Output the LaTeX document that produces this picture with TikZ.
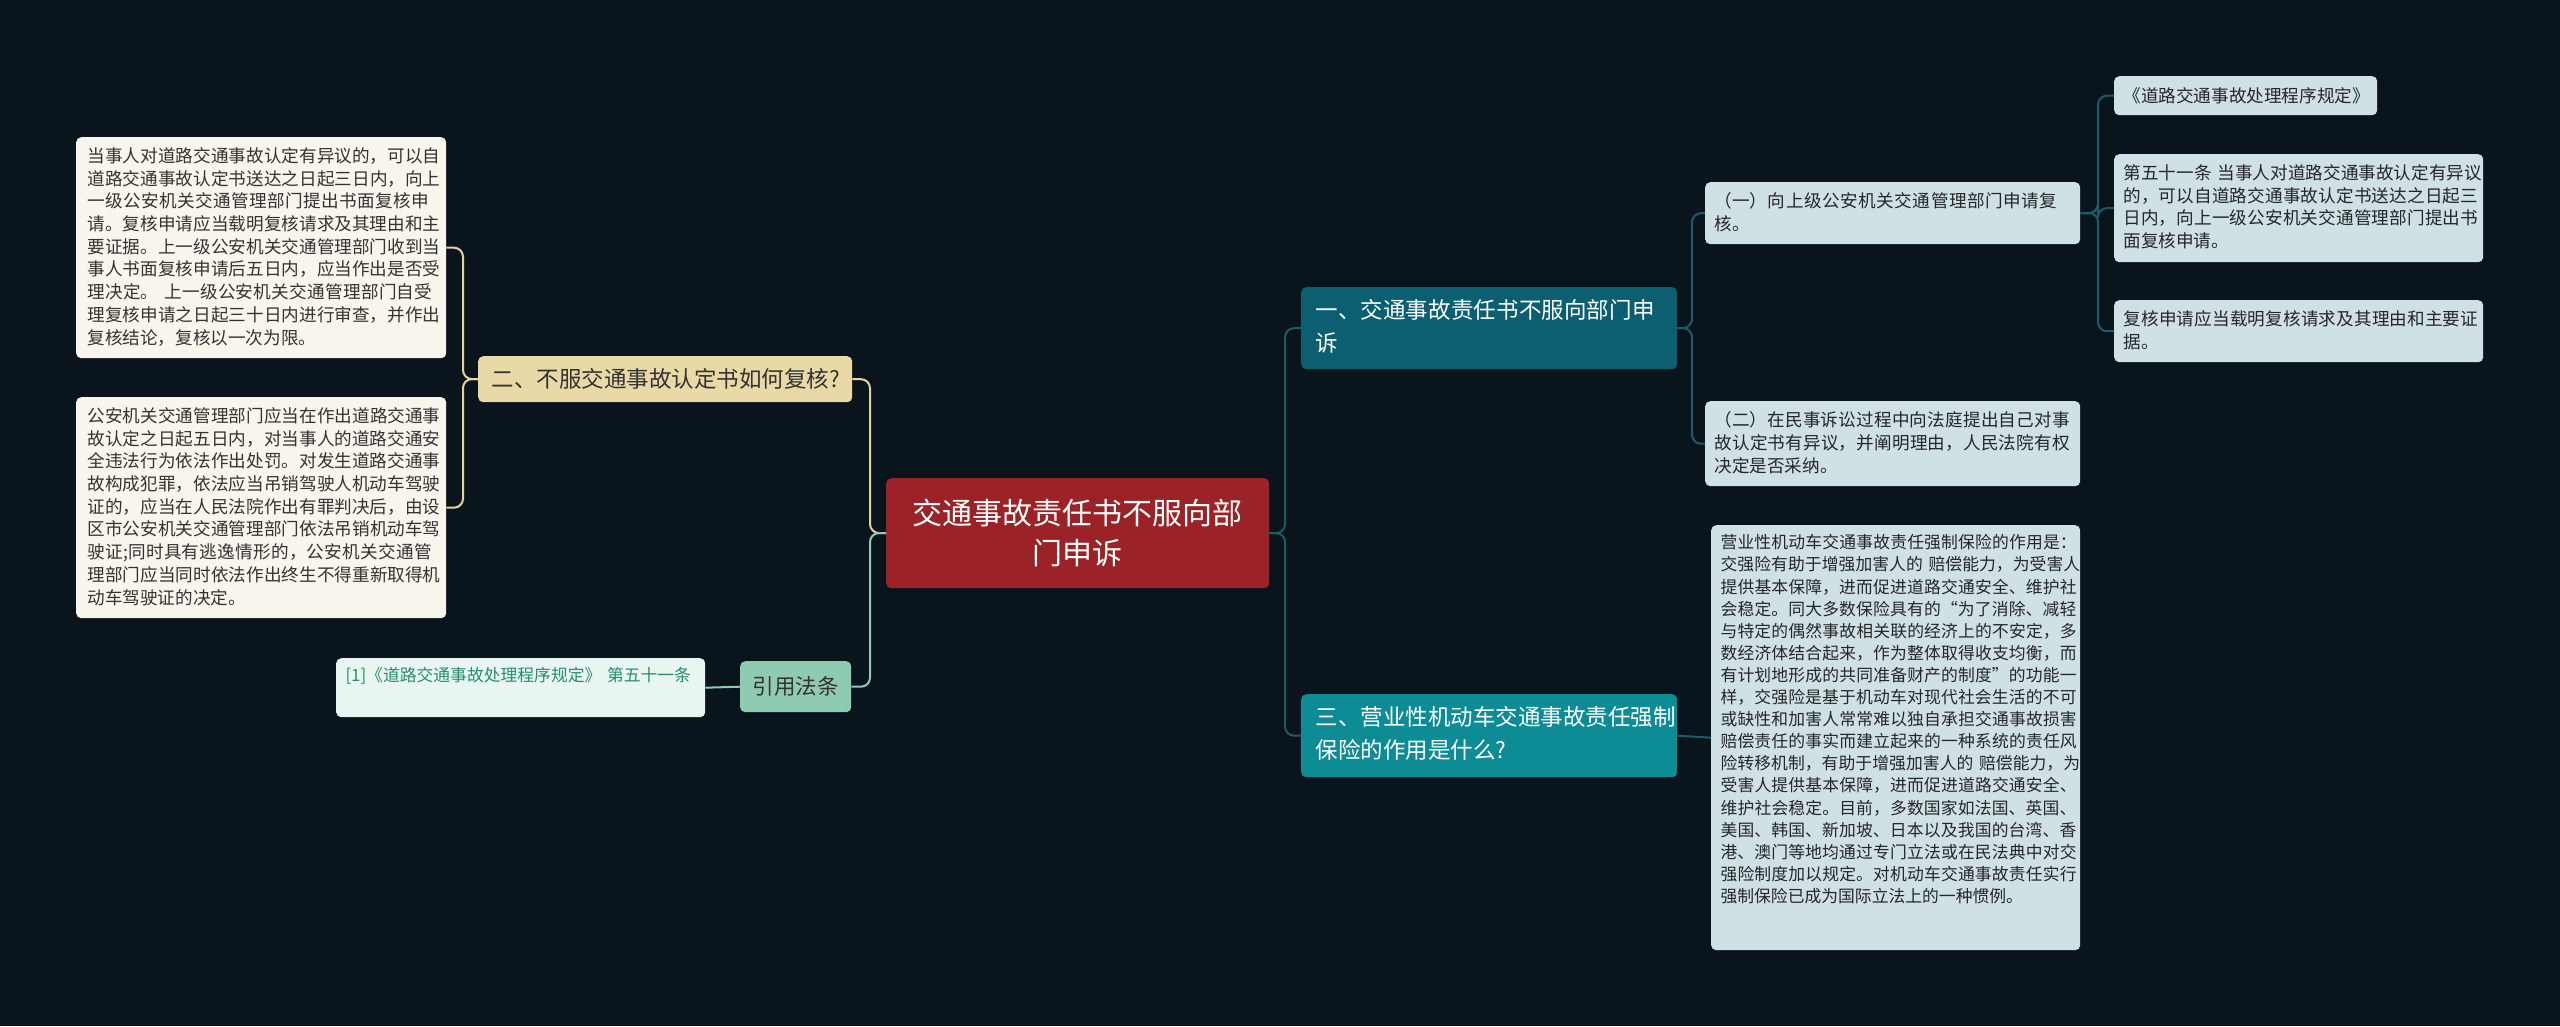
\documentclass[tikz,border=0pt]{standalone}
\usepackage{fontspec}
\setmainfont{Noto Sans CJK SC}
\XeTeXlinebreaklocale "zh"
\XeTeXlinebreakskip=0pt plus 1pt
\begin{document}
\begin{tikzpicture}[x=1pt,y=-1pt,
  box/.style={rounded corners=5pt,anchor=north west,inner sep=0pt},
  sm/.style={font=\fontsize{17.6}{22.7}\selectfont,align=left},
  bs/.style={font=\fontsize{16.8}{22.1}\selectfont,align=left},
  conR/.style={draw=cR,line width=2pt,rounded corners=9pt},
  conL/.style={draw=cL,line width=2pt,rounded corners=9pt},
  conM/.style={draw=cM,line width=2pt,rounded corners=9pt}]
\definecolor{bg}{HTML}{0A141C}
\definecolor{cR}{HTML}{1E5A68}
\definecolor{cL}{HTML}{E3D4A2}
\definecolor{cM}{HTML}{8FCBB0}
\definecolor{lb}{HTML}{D0E1E6}
\definecolor{cr}{HTML}{F8F5EC}
\definecolor{cc}{HTML}{9B2226}
\definecolor{bei}{HTML}{E9D9A6}
\definecolor{mint}{HTML}{E8F5F0}
\definecolor{reft}{HTML}{288C6E}
\definecolor{t1}{HTML}{0C5F70}
\definecolor{t3}{HTML}{0E8C95}
\fill[bg] (0,0) rectangle (2560,1026);
\useasboundingbox (0,0) rectangle (2560,1026);
% nodes
\node[box,fill=cc,minimum width=383pt,minimum height=110pt] (c) at (886,478) {};
\node[text=white,font=\fontsize{30}{40}\selectfont,align=center] at (c.center) {交通事故责任书不服向部\\门申诉};
\node[box,fill=bei,minimum width=374pt,minimum height=46pt] (n2) at (478,356) {};
\node[anchor=west,font=\fontsize{22.5}{28}\selectfont,text=black!80] at ([xshift=10pt]n2.west) {二、不服交通事故认定书如何复核?};
\node[box,fill=cr,minimum width=370pt,minimum height=221pt] (l1) at (76,137) {};
\node[sm,anchor=north west,text=black!80,text width=355pt] at (84,144) {当事人对道路交通事故认定有异议的，可以自道路交通事故认定书送达之日起三日内，向上一级公安机关交通管理部门提出书面复核申请。复核申请应当载明复核请求及其理由和主要证据。上一级公安机关交通管理部门收到当事人书面复核申请后五日内，应当作出是否受理决定。 上一级公安机关交通管理部门自受理复核申请之日起三十日内进行审查，并作出复核结论，复核以一次为限。};
\node[box,fill=cr,minimum width=370pt,minimum height=221pt] (l2) at (76,397) {};
\node[sm,anchor=north west,text=black!80,text width=355pt] at (84,404) {公安机关交通管理部门应当在作出道路交通事故认定之日起五日内，对当事人的道路交通安全违法行为依法作出处罚。对发生道路交通事故构成犯罪，依法应当吊销驾驶人机动车驾驶证的，应当在人民法院作出有罪判决后，由设区市公安机关交通管理部门依法吊销机动车驾驶证;同时具有逃逸情形的，公安机关交通管理部门应当同时依法作出终生不得重新取得机动车驾驶证的决定。};
\node[box,fill=cM,minimum width=111pt,minimum height=51pt] (yy) at (740,661) {};
\node[font=\fontsize{21.5}{26}\selectfont,text=black!80] at (yy.center) {引用法条};
\node[box,fill=mint,minimum width=369pt,minimum height=59pt] (ref) at (336,658) {};
\node[bs,anchor=north west,text=reft,text width=356pt] at (342,664) {[1]《道路交通事故处理程序规定》 第五十一条};
\node[box,fill=t1,minimum width=376pt,minimum height=82pt] (r1) at (1301,287) {};
\node[anchor=north west,font=\fontsize{22.5}{33}\selectfont,text=white,align=left,text width=345pt] at (1312,296) {一、交通事故责任书不服向部门申诉};
\node[box,fill=t3,minimum width=376pt,minimum height=83pt] (r3) at (1301,694) {};
\node[anchor=north west,font=\fontsize{22.5}{33}\selectfont,text=white,align=left,text width=362pt] at (1312,703) {三、营业性机动车交通事故责任强制保险的作用是什么?};
\node[box,fill=lb,minimum width=375pt,minimum height=62pt] (a1) at (1705,182) {};
\node[sm,anchor=north west,text=black!85,text width=362pt] at (1711,189) {（一）向上级公安机关交通管理部门申请复核。};
\node[box,fill=lb,minimum width=375pt,minimum height=85pt] (a2) at (1705,401) {};
\node[sm,anchor=north west,text=black!85,text width=362pt] at (1711,408) {（二）在民事诉讼过程中向法庭提出自己对事故认定书有异议，并阐明理由，人民法院有权决定是否采纳。};
\node[box,fill=lb,minimum width=263pt,minimum height=39pt] (b1) at (2114,76) {};
\node[sm,anchor=west,text=black!85] at ([xshift=6pt]b1.west) {《道路交通事故处理程序规定》};
\node[box,fill=lb,minimum width=369pt,minimum height=108pt] (b2) at (2114,154) {};
\node[sm,anchor=north west,text=black!85,text width=360pt] at (2120,161) {第五十一条 当事人对道路交通事故认定有异议的，可以自道路交通事故认定书送达之日起三日内，向上一级公安机关交通管理部门提出书面复核申请。};
\node[box,fill=lb,minimum width=369pt,minimum height=62pt] (b3) at (2114,300) {};
\node[sm,anchor=north west,text=black!85,text width=360pt] at (2120,307) {复核申请应当载明复核请求及其理由和主要证据。};
\node[box,fill=lb,minimum width=369pt,minimum height=425pt] (big) at (1711,525) {};
\node[bs,anchor=north west,text=black!85,text width=362pt] at (1717,531) {营业性机动车交通事故责任强制保险的作用是：交强险有助于增强加害人的 赔偿能力，为受害人提供基本保障，进而促进道路交通安全、维护社会稳定。同大多数保险具有的“为了消除、减轻与特定的偶然事故相关联的经济上的不安定，多数经济体结合起来，作为整体取得收支均衡，而有计划地形成的共同准备财产的制度”的功能一样，交强险是基于机动车对现代社会生活的不可或缺性和加害人常常难以独自承担交通事故损害赔偿责任的事实而建立起来的一种系统的责任风险转移机制，有助于增强加害人的 赔偿能力，为受害人提供基本保障，进而促进道路交通安全、维护社会稳定。目前，多数国家如法国、英国、美国、韩国、新加坡、日本以及我国的台湾、香港、澳门等地均通过专门立法或在民法典中对交强险制度加以规定。对机动车交通事故责任实行强制保险已成为国际立法上的一种惯例。};
% connectors
\draw[conR] (c.east) -- (1285,533) |- (r1.west);
\draw[conR] (c.east) -- (1285,533) |- (r3.west);
\draw[conR] (r1.east) -- (1692,328) |- (a1.west);
\draw[conR] (r1.east) -- (1692,328) |- (a2.west);
\draw[conR] (r3.east) -- (big.west);
\draw[conR] (a1.east) -- (2098,213) |- (b1.west);
\draw[conR] (a1.east) -- (2098,213) |- (b2.west);
\draw[conR] (a1.east) -- (2098,213) |- (b3.west);
\draw[conL] (c.west) -- (870,533) |- (n2.east);
\draw[conM] (c.west) -- (870,533) |- (yy.east);
\draw[conL] (n2.west) -- (463,379) |- (l1.east);
\draw[conL] (n2.west) -- (463,379) |- (l2.east);
\draw[conM] (yy.west) -- (ref.east);
\end{tikzpicture}
\end{document}
